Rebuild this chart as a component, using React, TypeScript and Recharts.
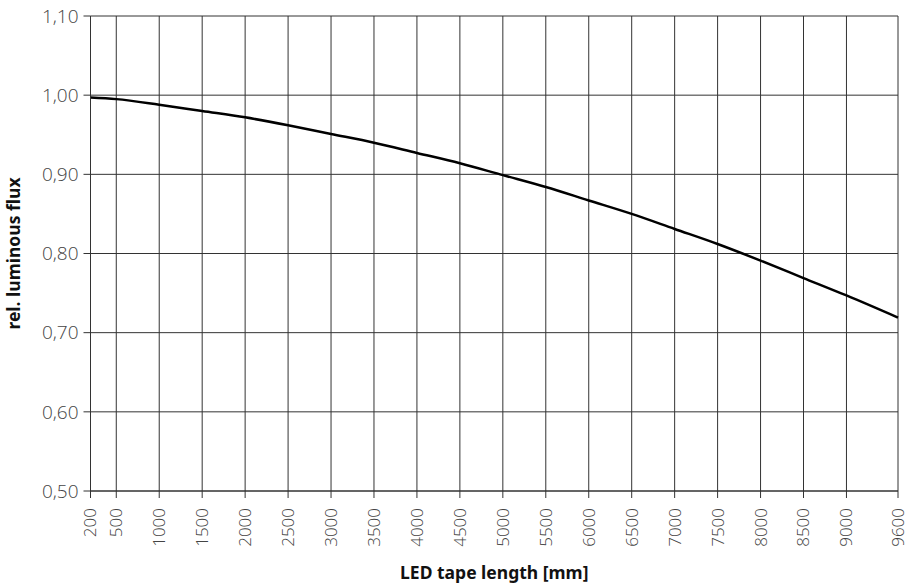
import { LineChart, Line, XAxis, YAxis, CartesianGrid, Label } from 'recharts'

const lengths = [200, 500, 1000, 1500, 2000, 2500, 3000, 3500, 4000, 4500, 5000, 5500, 6000, 6500, 7000, 7500, 8000, 8500, 9000, 9600]
const flux = [0.997, 0.995, 0.988, 0.98, 0.972, 0.962, 0.951, 0.94, 0.927, 0.914, 0.899, 0.884, 0.867, 0.85, 0.831, 0.812, 0.791, 0.769, 0.747, 0.719]
const xTicks = [200, 500, 1000, 1500, 2000, 2500, 3000, 3500, 4000, 4500, 5000, 5500, 6000, 6500, 7000, 7500, 8000, 8500, 9000, 9600]
const yTicks = [0.5, 0.6, 0.7, 0.8, 0.9, 1.0, 1.1]

const data = lengths.map((len, i) => ({ len, flux: flux[i] }))

const font = '"Noto Sans", sans-serif'
const tickFont = '"Open Sans", "Noto Sans", sans-serif'

function XTick({ x, y, payload }: any) {
  return (
    <g transform={`translate(${x},${y})`}>
      <text
        transform="rotate(-90)"
        x={-8}
        y={0}
        dy="0.35em"
        textAnchor="end"
        fill="#444"
        fontSize={17}
        fontWeight={300}
        fontFamily={tickFont}
      >
        {payload.value}
      </text>
    </g>
  )
}

export default function App() {
  return (
    <div style={{ position: 'absolute', left: 0, top: 0, background: '#fff' }}>
      <LineChart width={907} height={585} data={data} margin={{ top: 16, right: 9, bottom: 0, left: 0 }}>
        <CartesianGrid stroke="#333" strokeWidth={1} />
        <XAxis
          dataKey="len"
          type="number"
          domain={[200, 9600]}
          ticks={xTicks}
          interval={0}
          height={94}
          stroke="#333"
          tickSize={7}
          tick={<XTick />}
        >
          <Label
            value="LED tape length [mm]"
            position="insideBottom"
            offset={6}
            style={{ fontFamily: font, fontWeight: 700, fontSize: 17.5, fill: '#111' }}
          />
        </XAxis>
        <YAxis
          type="number"
          domain={[0.5, 1.1]}
          ticks={yTicks}
          interval={0}
          width={90.5}
          stroke="#333"
          tickSize={7}
          tickMargin={5}
          tickFormatter={(v: number) => v.toFixed(2).replace('.', ',')}
          tick={{ fontSize: 19, fill: '#444', fontFamily: tickFont, fontWeight: 300 }}
        >
          <Label
            value="rel. luminous flux"
            angle={-90}
            position="insideLeft"
            offset={14}
            style={{ fontFamily: font, fontWeight: 700, fontSize: 17.5, fill: '#111', textAnchor: 'middle' }}
          />
        </YAxis>
        <Line
          type="monotone"
          dataKey="flux"
          stroke="#000"
          strokeWidth={2.5}
          dot={false}
          isAnimationActive={false}
        />
      </LineChart>
    </div>
  )
}
